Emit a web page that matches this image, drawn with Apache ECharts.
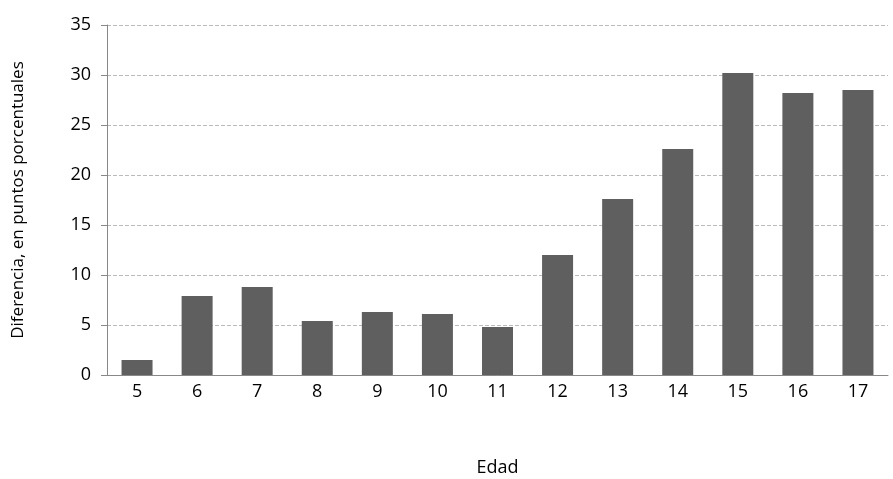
<!DOCTYPE html>
<html><head><meta charset="utf-8">
<script src="https://cdn.jsdelivr.net/npm/echarts@6/dist/echarts.min.js"></script>
<style>body{margin:0}#c{width:893px;height:479px}</style></head>
<body><div id="c"></div>
<script>
const categories=['5','6','7','8','9','10','11','12','13','14','15','16','17'];
const values=[1.5,7.9,8.8,5.4,6.3,6.1,4.8,12.0,17.6,22.6,30.2,28.2,28.5];
const yTicks={min:0,max:35,interval:5};
const f='"Open Sans", sans-serif';
echarts.init(document.getElementById('c')).setOption({
  animation:false,
  grid:{left:107,right:5,top:25,bottom:104,outerBoundsMode:'none',containLabel:false},
  xAxis:{type:'category',data:categories,name:'Edad',nameLocation:'middle',nameGap:84,
    nameTextStyle:{fontFamily:f,fontSize:18,color:'#000'},
    axisLine:{lineStyle:{color:'#888'}},axisTick:{lineStyle:{color:'#888'},length:6},
    axisLabel:{fontFamily:f,fontSize:18,color:'#000',margin:8}},
  yAxis:{type:'value',...yTicks,name:'Diferencia, en puntos porcentuales',nameLocation:'middle',nameGap:80,
    nameTextStyle:{fontFamily:f,fontSize:17,color:'#000'},
    axisLine:{show:true,lineStyle:{color:'#888'}},axisTick:{show:true,lineStyle:{color:'#888'},length:6},
    axisLabel:{fontFamily:f,fontSize:18,color:'#000',margin:16},
    splitLine:{lineStyle:{color:'#bbb',type:'dashed'}}},
  series:[{type:'bar',data:values,barWidth:31,itemStyle:{color:'#5f5f5f'}}]
});
</script></body></html>
